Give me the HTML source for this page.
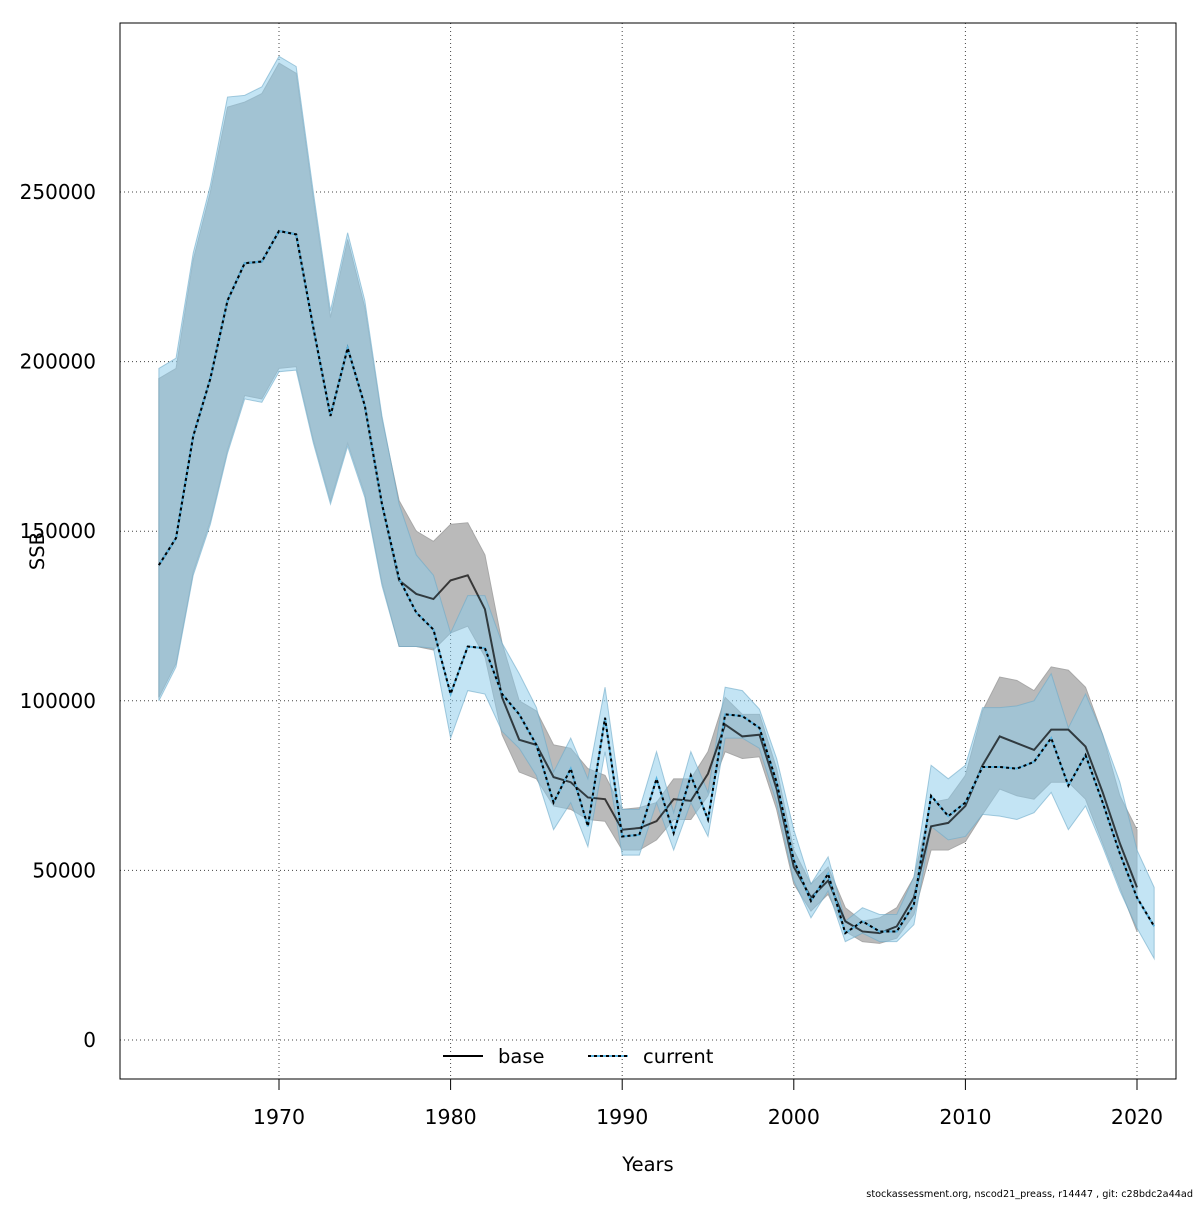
<!DOCTYPE html>
<html><head><meta charset="utf-8"><style>
body{margin:0;background:#fff}
svg text{font-family:"DejaVu Sans","Liberation Sans",sans-serif;fill:#000}
</style></head><body>
<svg id="chart" width="1200" height="1200" xmlns="http://www.w3.org/2000/svg">
<rect width="1200" height="1200" fill="#fff"/>
<g id="grid"></g>
<g id="bands"></g>
<g id="lines"></g>
<rect x="120" y="23" width="1056" height="1056" fill="none" stroke="#000" stroke-width="1"/>
<g id="axes"></g>
<text x="648" y="1171" font-size="19.5" text-anchor="middle">Years</text>
<text x="44" y="551" font-size="19.5" text-anchor="middle" transform="rotate(-90 44 551)">SSB</text>
<g>
<line x1="443" y1="1056" x2="483" y2="1056" stroke="#000" stroke-width="2"/>
<text x="498" y="1063" font-size="19.5">base</text>
<line x1="588" y1="1056" x2="628" y2="1056" stroke="#5ab4e0" stroke-width="2"/>
<line x1="588" y1="1056" x2="628" y2="1056" stroke="#000" stroke-width="2" stroke-dasharray="3,3"/>
<text x="643" y="1063" font-size="19.5">current</text>
</g>
<text x="1193" y="1197" font-size="9.7" text-anchor="end">stockassessment.org, nscod21_preass, r14447 , git: c28bdc2a44ad</text>
</svg>
<script>
const years=[];for(let y=1963;y<=2021;y++)years.push(y);
const curEst=[140000,148000,178000,195000,218000,229000,229500,238500,237500,210000,184000,204000,187000,158000,136000,126000,121000,102000,116000,115500,102000,96000,87000,70000,80000,63000,95000,60000,60500,77000,61000,78000,65000,96000,95500,92000,76000,53000,41000,49000,31500,35000,32000,32000,40000,72000,66000,70000,80500,80500,80000,82000,89000,75000,84000,70000,55000,42000,33500];
const curHi=[198000,201000,232000,252000,278000,278500,281000,290000,287000,250000,215000,238000,218000,184000,158000,143000,137000,120000,131000,131000,117000,108000,98000,79000,89000,77000,104000,68000,68000,85000,67000,85000,73000,104000,103000,97500,83000,62000,46000,54000,35000,39000,37000,37000,48000,81000,77000,81000,98000,98000,98500,100000,108000,92000,102000,90000,76000,56000,45000];
const curLo=[100000,110000,137000,152000,173000,189000,188000,197000,197500,176000,158000,175000,160000,134000,116000,116000,115500,89000,103000,102000,91000,86000,78000,62000,70000,57000,85000,54500,54500,70000,56000,70000,60000,89000,89000,86000,70000,47000,36000,44000,29000,31500,29000,29000,34000,63000,59000,60000,66500,66000,65000,67000,73000,62000,69000,57000,44000,33000,24000];
const baseYears=years.slice(0,58);
const baseEst=[140000,148000,178000,195000,218000,229000,229500,238500,237500,210000,184000,204000,187000,158000,135500,131500,130000,135500,137000,127000,101000,88500,87000,77500,76000,71500,71000,62000,62500,64500,71000,70500,78500,93000,89500,90000,74000,51000,42000,47000,35000,32000,31500,33500,42000,63000,64000,69000,81000,89500,87500,85500,91500,91500,86500,73000,58000,45000];
const baseHi=[195000,198000,230000,250000,275000,276500,279000,288000,285000,248000,213000,236000,216000,183000,159000,150000,147000,152000,152500,143000,117000,100000,97000,87000,86000,80000,78000,68000,68500,70000,77000,77000,85000,101000,96000,96000,80000,56000,46000,51000,39000,35000,36000,39000,48000,70000,71000,78000,97000,107000,106000,103000,110000,109000,104000,90000,72000,62000];
const baseLo=[101000,111000,138000,153000,174000,190000,189000,198000,198500,177000,159000,176000,161000,135000,116000,116000,115000,120000,122000,113000,90000,79000,77000,69000,68000,65000,64500,56000,56000,59000,65000,65000,72000,85000,83000,83500,68000,46000,38000,43000,32000,29000,28500,30000,37000,56000,56000,58500,66500,74000,72000,71000,76000,76000,71000,58000,45000,32000];
const xTicks=[1970,1980,1990,2000,2010,2020];
const yTicks=[0,50000,100000,150000,200000,250000];
const X=y=>279+(y-1970)*17.16;
const Y=v=>1040-v*169.6/50000;
const NS='http://www.w3.org/2000/svg';
function mk(tag,parent,attrs){const e=document.createElementNS(NS,tag);for(const k in attrs)e.setAttribute(k,attrs[k]);document.getElementById(parent).appendChild(e);return e;}
xTicks.forEach(t=>{
  const g=mk('line','grid',{x1:X(t),x2:X(t),y1:23,y2:1079,stroke:'#444','stroke-width':1,'stroke-dasharray':'1,3'});
  
  
  const tk=mk('line','axes',{x1:X(t),x2:X(t),y1:1079,y2:1090,stroke:'#000'});
  
  
  const tx=mk('text','axes',{x:X(t),y:1124,'font-size':20.5,'text-anchor':'middle'});tx.textContent=t;
  
  
});
yTicks.forEach(t=>{
  const g=mk('line','grid',{x1:120,x2:1176,y1:Y(t),y2:Y(t),stroke:'#444','stroke-width':1,'stroke-dasharray':'1,3'});
  
  
  const tx=mk('text','axes',{x:96,y:Y(t)+7,'font-size':20,'text-anchor':'end'});tx.textContent=t;
  
  
});
function band(yrs,hi,lo,fill,stroke,name){
  let d='M'+yrs.map((y,i)=>X(y)+','+Y(hi[i])).join('L');
  for(let i=yrs.length-1;i>=0;i--)d+='L'+X(yrs[i])+','+Y(lo[i]);
  const p=mk('path','bands',{d:d+'Z',fill:fill,stroke:stroke,'stroke-width':1});
  
  
}
band(baseYears,baseHi,baseLo,'#bababa','#a8a8a8','base-ci-band');
band(years,curHi,curLo,'rgba(140,204,233,0.52)','rgba(110,170,200,0.6)','current-ci-band');
function line(yrs,v,attrs,name){
  const p=mk('polyline','lines',Object.assign({points:yrs.map((y,i)=>X(y)+','+Y(v[i])).join(' '),fill:'none'},attrs));
  
  
}
line(baseYears,baseEst,{stroke:'rgba(0,0,0,0.7)','stroke-width':2},'base-line');
line(years,curEst,{stroke:'#5ab4e0','stroke-width':2},'current-line-bg');
line(years,curEst,{stroke:'#000','stroke-width':2,'stroke-dasharray':'3,3'},'current-line');
</script>
</body></html>
